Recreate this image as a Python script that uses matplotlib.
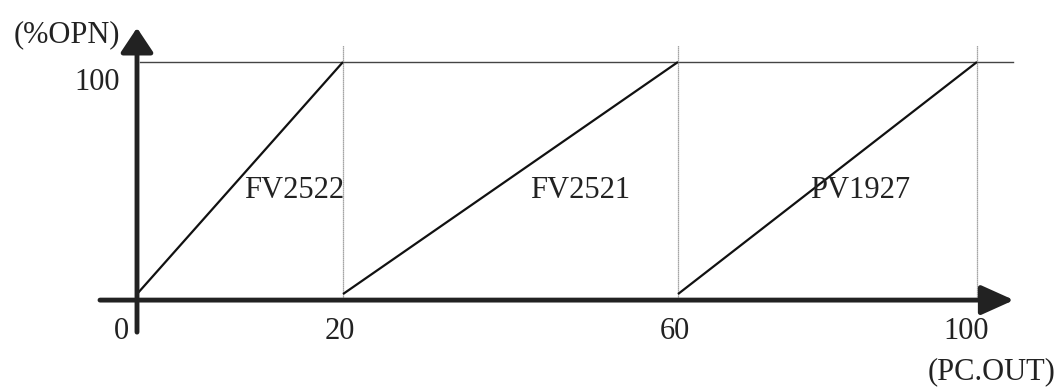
import numpy as np
import matplotlib
matplotlib.use("Agg")
import matplotlib.pyplot as plt

# valve opening vs controller output (split range)
valves = ["FV2522", "FV2521", "PV1927"]
pc_start = [0, 20, 60]
pc_end = [20, 60, 100]
opn_start = [0, 0, 0]
opn_end = [100, 100, 100]

x_ticks = [0, 20, 60, 100]
x_tick_labels = ["0", "20", "60", "100"]
y_ticks = [100]
y_tick_labels = ["100"]

label_x = [15.3, 48.3, 84.3]
label_y = [44.8, 44.8, 44.8]

plt.rcParams["font.family"] = ["Liberation Serif", "DejaVu Serif"]
plt.rcParams["font.size"] = 22

# drawing is not to scale: piecewise-linear x scale
_bx = [-1000, 0, 20, 60, 100, 1000]
_bt = [-10300, 0, 206, 541, 840, 840 + 900 * 7.475]


def fwd(x):
    return np.interp(x, _bx, _bt)


def inv(t):
    return np.interp(t, _bt, _bx)


fig = plt.figure(figsize=(10.62, 3.92), dpi=100)
ax = fig.add_axes([0, 0, 1, 1])
ax.set_xscale("function", functions=(fwd, inv))
ax.set_xlim(inv(-137), inv(925))
ax.set_ylim(-42.2, 126.7)
ax.axis("off")

# thin guide lines
ax.plot([0.3, inv(876)], [100, 100], color="#444", lw=1.0)
for xe in pc_end:
    ax.plot([xe, xe], [-1.3, 107.5], color="#888", lw=0.9, ls=(0, (1, 0.6)))

# valve lines
for x0, x1, y0, y1 in zip(pc_start, pc_end, opn_start, opn_end):
    ax.plot([x0, x1], [y0, y1], color="#111", lw=1.6, solid_capstyle="butt")

# axes with arrows
ax.annotate("", xy=(inv(877), -2.6), xytext=(inv(-37), -2.6),
            arrowprops=dict(arrowstyle="-|>,head_length=1.0,head_width=0.45",
                            mutation_scale=20, lw=3.5, color="#222",
                            shrinkA=0, shrinkB=0))
ax.annotate("", xy=(0, 114.7), xytext=(0, -16.4),
            arrowprops=dict(arrowstyle="-|>,head_length=0.75,head_width=0.5",
                            mutation_scale=20, lw=3.5, color="#222",
                            shrinkA=0, shrinkB=0))

# tick labels
x_offsets = [-11, -2, -2, -8]
for xv, lab, dx in zip(x_ticks, x_tick_labels, x_offsets):
    ax.annotate(lab, xy=(xv, 0), xytext=(dx, -27), textcoords="offset points",
                ha="center", va="center", color="#222")
for yv, lab in zip(y_ticks, y_tick_labels):
    ax.annotate(lab, xy=(0, yv), xytext=(-12, -15), textcoords="offset points",
                ha="right", va="center", color="#222")

for name, lx, ly in zip(valves, label_x, label_y):
    ax.text(lx, ly, name, ha="center", va="center", color="#222")

fig.text(120 / 1062, 1 - 35 / 392, "(%OPN)", ha="right", va="center", color="#222")
fig.text(992 / 1062, 1 - 372 / 392, "(PC.OUT)", ha="center", va="center", color="#222")

fig.savefig("out.png", dpi=100, facecolor="white")
